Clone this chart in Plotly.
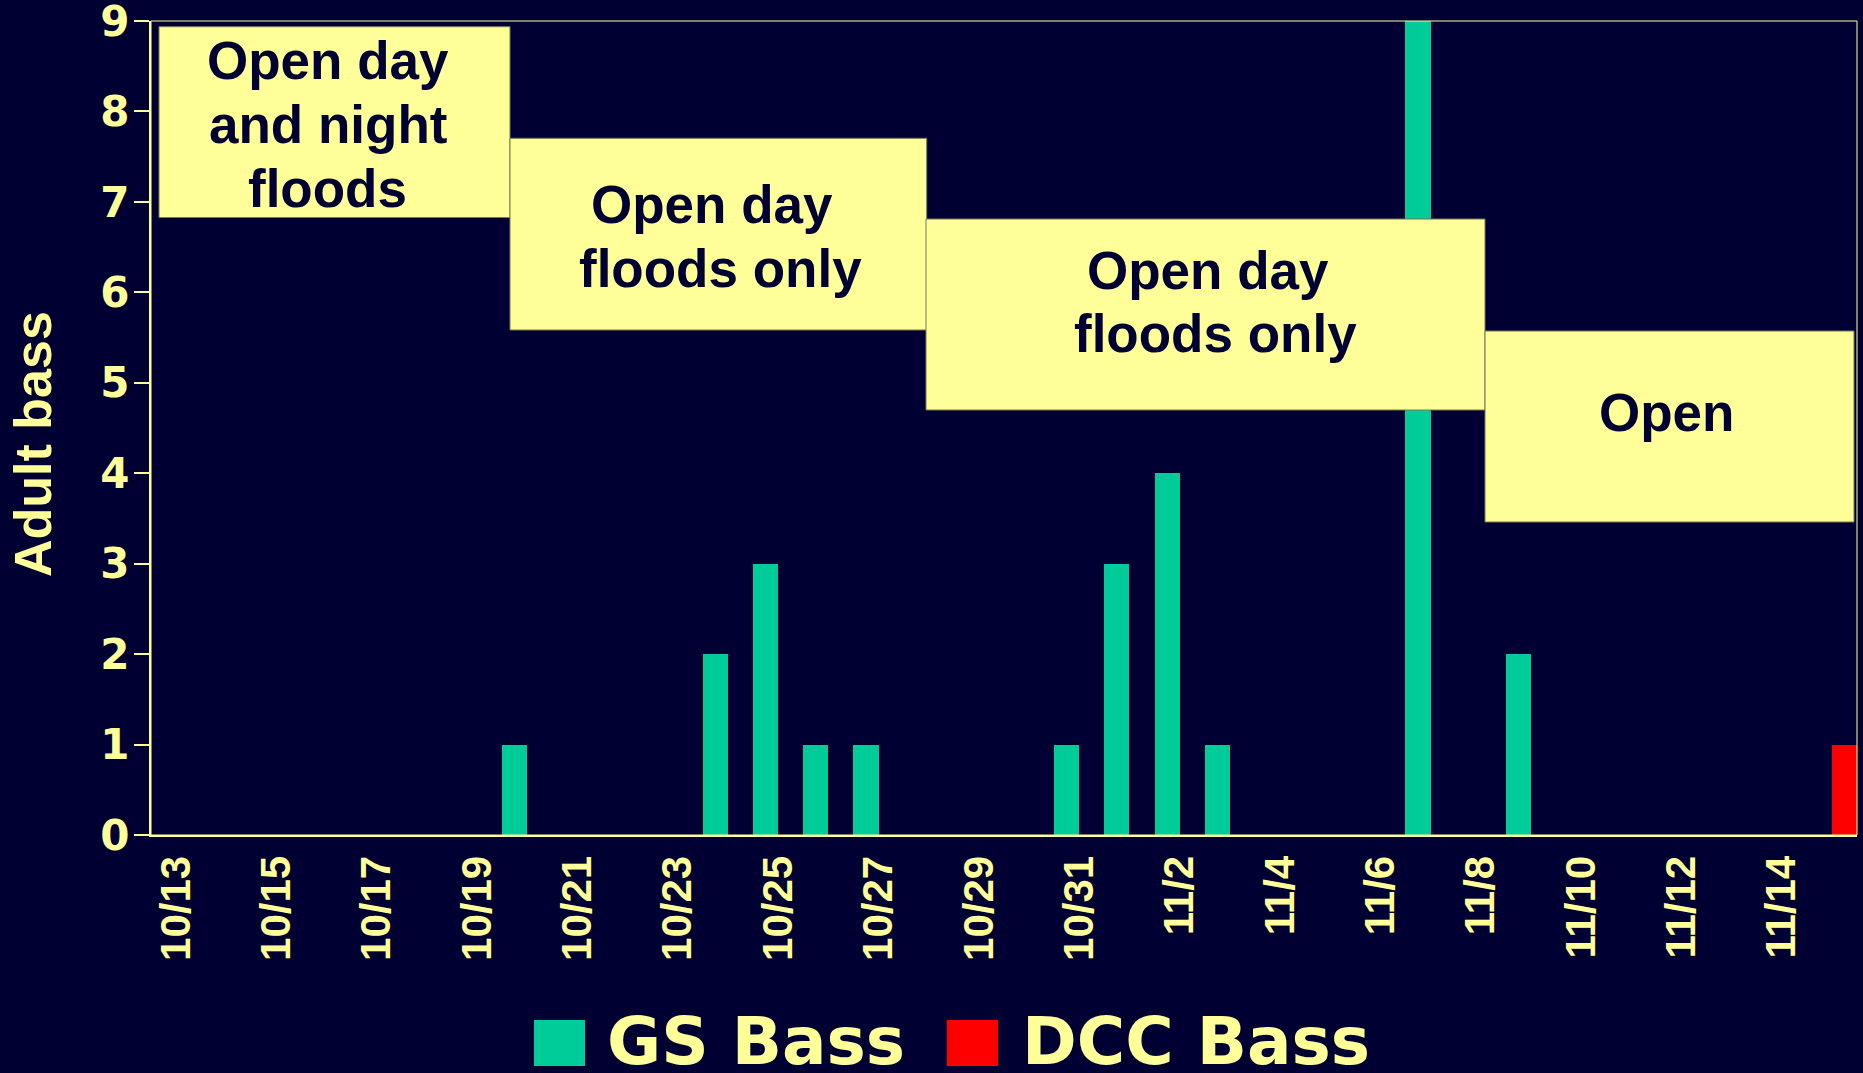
import plotly.graph_objects as go

# ---------------- data ----------------
dates = ["10/13", "10/14", "10/15", "10/16", "10/17", "10/18", "10/19", "10/20",
         "10/21", "10/22", "10/23", "10/24", "10/25", "10/26", "10/27", "10/28",
         "10/29", "10/30", "10/31", "11/1", "11/2", "11/3", "11/4", "11/5",
         "11/6", "11/7", "11/8", "11/9", "11/10", "11/11", "11/12", "11/13",
         "11/14", "11/15"]
gs_bass = [0, 0, 0, 0, 0, 0, 0, 1, 0, 0, 0, 2, 3, 1, 1, 0, 0, 0,
           1, 3, 4, 1, 0, 0, 0, 9, 0, 2, 0, 0, 0, 0, 0, 0]
dcc_bass = [0, 0, 0, 0, 0, 0, 0, 0, 0, 0, 0, 0, 0, 0, 0, 0, 0, 0,
            0, 0, 0, 0, 0, 0, 0, 0, 0, 0, 0, 0, 0, 0, 0, 1]
tick_labels = ["10/13", "10/15", "10/17", "10/19", "10/21", "10/23", "10/25",
               "10/27", "10/29", "10/31", "11/2", "11/4", "11/6", "11/8",
               "11/10", "11/12", "11/14"]
y_ticks = [0, 1, 2, 3, 4, 5, 6, 7, 8, 9]
series_names = ["GS Bass", "DCC Bass"]
y_title = "Adult bass"
period_boxes = [
    ["Open day", "and night", "floods"],
    ["Open day", "floods only"],
    ["Open day", "floods only"],
    ["Open"],
]

# ---------------- style ----------------
BG = "#000033"
YEL = "#FFFF99"
GREEN = "#00CC99"
RED = "#FF0000"
NAVY = "#000033"
ARIAL = "Liberation Sans, Arial, sans-serif"
WIDE = "DejaVu Sans, Verdana, sans-serif"

W, H = 1863, 1073
ML, MR, MT, MB = 151, 6, 21, 238
PW = W - ML - MR
PH = H - MT - MB


def px(x):
    return (x - ML) / PW


def py(y):
    return (H - MB - y) / PH


fig = go.Figure()
fig.add_trace(go.Bar(x=dates, y=gs_bass, name=series_names[0],
                     marker=dict(color=GREEN, line=dict(width=0)), showlegend=False))
fig.add_trace(go.Bar(x=dates, y=dcc_bass, name=series_names[1],
                     marker=dict(color=RED, line=dict(width=0)), showlegend=False))

shapes = []
annotations = []

# plot frame (thin)
shapes.append(dict(type="rect", xref="paper", yref="paper", x0=0, x1=1, y0=0, y1=1,
                   line=dict(color=YEL, width=1), layer="above"))

# period boxes (pixel geometry)
box_rects = [(159, 510, 26.7, 217.5), (510, 926.7, 138.3, 330),
             (926, 1485, 219, 410), (1485, 1854, 331, 522)]
box_text_pos = [
    [(327.5, 61), (327.5, 125), (327.5, 188.3)],
    [(711.5, 204.3), (720, 268.3)],
    [(1208, 270), (1215, 333.5)],
    [(1666.5, 412.6)],
]
for (x0, x1, y0, y1), lines, poss in zip(box_rects, period_boxes, box_text_pos):
    shapes.append(dict(type="rect", xref="paper", yref="paper",
                       x0=px(x0), x1=px(x1), y0=py(y1), y1=py(y0),
                       fillcolor=YEL, line=dict(color="#77775a", width=1), layer="above"))
    for txt, (cx, cy) in zip(lines, poss):
        annotations.append(dict(text=txt, xref="paper", yref="paper", x=px(cx), y=py(cy),
                                xanchor="center", yanchor="middle", showarrow=False,
                                font=dict(family=ARIAL, size=53, color=NAVY, weight="bold")))

# legend (large swatches)
legend_items = [(series_names[0], GREEN, 534, 605), (series_names[1], RED, 947, 1020)]
for name, col, sx, tx in legend_items:
    shapes.append(dict(type="rect", xref="paper", yref="paper",
                       x0=px(sx), x1=px(sx + 51), y0=py(1066), y1=py(1020),
                       fillcolor=col, line=dict(width=0), layer="above"))
    annotations.append(dict(text=name, xref="paper", yref="paper", x=px(tx), y=py(1041),
                            xanchor="left", yanchor="middle", showarrow=False,
                            font=dict(family=WIDE, size=66, color=YEL, weight="bold")))

# y-axis title
annotations.append(dict(text=y_title, xref="paper", yref="paper", x=px(33), y=py(444),
                        xanchor="center", yanchor="middle", showarrow=False, textangle=-90,
                        font=dict(family=ARIAL, size=52, color=YEL, weight="bold")))

fig.update_layout(
    width=W, height=H,
    margin=dict(l=ML, r=MR, t=MT, b=MB, autoexpand=False),
    paper_bgcolor=BG, plot_bgcolor=BG,
    barmode="group", bargap=0.0, bargroupgap=0.0,
    showlegend=False,
    xaxis=dict(type="category", range=[-0.5, len(dates) - 0.5],
               tickmode="array", tickvals=tick_labels, ticktext=tick_labels,
               tickangle=-90, ticks="", ticklabelstandoff=2,
               tickfont=dict(family=ARIAL, size=42, color=YEL, weight="bold"),
               showline=True, linecolor=YEL, linewidth=2, showgrid=False,
               zeroline=False, automargin=False),
    xaxis2=dict(type="linear", overlaying="x", anchor="y", side="bottom",
                range=[-0.5, len(dates) - 0.5], tickmode="linear", tick0=-0.5, dtick=2,
                ticks="outside", ticklen=14, tickwidth=2, tickcolor=YEL,
                minor=dict(tick0=-0.5, dtick=1, ticks="outside", ticklen=10,
                           tickwidth=2, tickcolor=YEL),
                showticklabels=False, showgrid=False, zeroline=False, showline=False),
    yaxis=dict(range=[0, 9], tickmode="array", tickvals=y_ticks,
               ticks="outside", ticklen=15, tickwidth=2, tickcolor=YEL,
               ticklabelstandoff=-4, ticklabeloverflow="allow",
               tickfont=dict(family=WIDE, size=42, color=YEL, weight="bold"),
               showline=True, linecolor=YEL, linewidth=2, showgrid=False,
               zeroline=False, automargin=False),
    shapes=shapes,
    annotations=annotations,
)

fig.write_html("out.html", config={"displayModeBar": False},
               post_script="document.body.style.margin='0';document.body.style.overflow='hidden';")
